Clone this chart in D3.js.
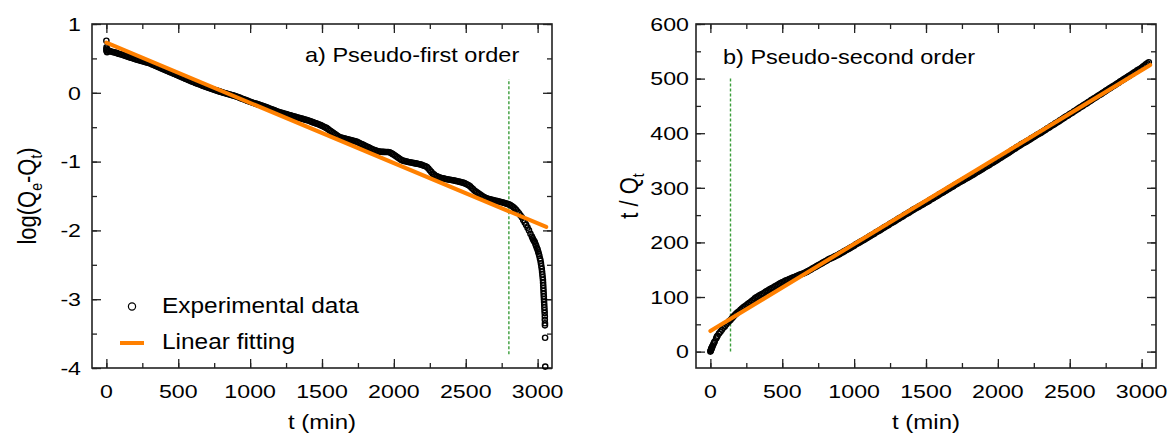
<!DOCTYPE html>
<html>
<head>
<meta charset="utf-8">
<script src="https://cdn.jsdelivr.net/npm/d3@7"></script>
<style>
  html, body { margin: 0; padding: 0; background: #fff; }
  svg { display: block; font-family: "Liberation Sans", Arial, sans-serif; }
</style>
</head>
<body>
<svg id="chart" width="1169" height="434"></svg>
<script>
// Sampling interval of the kinetic run (minutes between recorded points)
const SAMPLE_STEP = 10;

// a) log(Qe - Qt), one value every SAMPLE_STEP minutes from t = 0 to t = 2800
const logGap = [
  0.62,0.615,0.61,0.60,0.595,0.59,0.585,0.58,0.57,0.565,
  0.56,0.553,0.546,0.539,0.532,0.525,0.518,0.511,0.504,0.497,
  0.49,0.484,0.478,0.472,0.466,0.46,0.454,0.448,0.442,0.436,
  0.43,0.421,0.412,0.403,0.394,0.385,0.376,0.367,0.358,0.349,
  0.34,0.331,0.322,0.313,0.304,0.295,0.286,0.277,0.268,0.259,
  0.25,0.241,0.232,0.223,0.214,0.205,0.196,0.187,0.178,0.169,
  0.16,0.152,0.144,0.136,0.128,0.12,0.112,0.104,0.096,0.088,
  0.08,0.073,0.066,0.059,0.052,0.045,0.038,0.031,0.024,0.017,
  0.01,0.004,-0.002,-0.008,-0.014,-0.02,-0.026,-0.032,-0.038,-0.044,
  -0.05,-0.058,-0.066,-0.074,-0.082,-0.09,-0.098,-0.106,-0.114,-0.122,
  -0.13,-0.137,-0.144,-0.151,-0.158,-0.165,-0.172,-0.179,-0.186,-0.193,
  -0.2,-0.208,-0.216,-0.224,-0.232,-0.24,-0.248,-0.256,-0.264,-0.272,
  -0.28,-0.286,-0.292,-0.298,-0.304,-0.31,-0.316,-0.322,-0.328,-0.334,
  -0.34,-0.346,-0.352,-0.358,-0.364,-0.37,-0.376,-0.382,-0.388,-0.394,
  -0.4,-0.408,-0.415,-0.423,-0.43,-0.438,-0.445,-0.453,-0.46,-0.47,
  -0.48,-0.49,-0.5,-0.51,-0.525,-0.54,-0.555,-0.57,-0.585,-0.6,
  -0.615,-0.63,-0.643,-0.65,-0.655,-0.66,-0.666,-0.672,-0.677,-0.683,
  -0.688,-0.694,-0.699,-0.705,-0.71,-0.72,-0.73,-0.74,-0.75,-0.76,
  -0.77,-0.78,-0.79,-0.8,-0.81,-0.82,-0.828,-0.836,-0.843,-0.85,
  -0.855,-0.857,-0.858,-0.859,-0.86,-0.86,-0.861,-0.865,-0.875,-0.888,
  -0.9,-0.915,-0.93,-0.945,-0.96,-0.973,-0.985,-0.99,-0.995,-1.0,
  -1.005,-1.01,-1.014,-1.018,-1.022,-1.026,-1.03,-1.034,-1.038,-1.044,
  -1.052,-1.06,-1.068,-1.08,-1.1,-1.125,-1.15,-1.175,-1.19,-1.205,
  -1.215,-1.225,-1.232,-1.238,-1.243,-1.248,-1.252,-1.256,-1.26,-1.264,
  -1.268,-1.272,-1.276,-1.28,-1.285,-1.29,-1.295,-1.3,-1.306,-1.313,
  -1.322,-1.332,-1.343,-1.36,-1.38,-1.4,-1.42,-1.435,-1.45,-1.465,
  -1.48,-1.495,-1.508,-1.52,-1.53,-1.537,-1.543,-1.549,-1.555,-1.56,
  -1.565,-1.57,-1.575,-1.58,-1.585,-1.59,-1.596,-1.602,-1.608,-1.615,
  -1.622
];
// first readings right after the start
const startMin = [0, 1, 2, 3, 5];
const startLog = [0.757, 0.66, 0.64, 0.60, 0.59];
// near equilibrium the gap collapses quickly: denser readings
const tailMin = [2810,2820,2830,2840,2850,2860,2870,2880,2890,2900,2910,2920,2930,2940,2950,2960,2965,2970,2975,2980,2985,2990,2995,3000,3004,3008,3012,3016,3020,3023,3026,3029,3031,3033,3035,3037,3038,3039,3040,3041,3042,3043,3044,3045,3046,3047,3048,3049,3050,3050,3051,3051,3052,3053];
const tailLog = [-1.63,-1.645,-1.66,-1.68,-1.70,-1.725,-1.75,-1.78,-1.81,-1.85,-1.885,-1.92,-1.96,-2.0,-2.05,-2.09,-2.115,-2.135,-2.155,-2.17,-2.2,-2.225,-2.255,-2.28,-2.31,-2.34,-2.37,-2.41,-2.44,-2.48,-2.52,-2.56,-2.6,-2.64,-2.68,-2.72,-2.76,-2.8,-2.84,-2.88,-2.92,-2.96,-3.0,-3.04,-3.08,-3.12,-3.16,-3.2,-3.25,-3.3,-3.35,-3.38,-3.56,-3.98];

// b) t / Qt, one value every SAMPLE_STEP minutes from t = 0 to t = 3050
const ratio = [
  0,7,13,18.5,24,29,33,36.5,40,43.5,
  46,49.5,53,55.5,58,61,64,67,69.5,72,
  74,76.5,79,81,83,85,87,89,91,93,
  95,97.5,99.5,101,102.5,104,105.5,107,109,110.5,
  112,113.5,115,116.5,118,119.5,121,122.5,124,125.5,
  127,128,129.5,130.5,131.5,133,134,135,136,137,
  138.5,139.5,140.5,141.5,142.5,143.5,145,146,147.5,149,
  150.5,152,153.5,155,156.5,158,159.5,161,162.5,164,
  165.5,167,168.5,170,171,172.5,173.5,175,176,177.5,
  179,180.5,182,183.5,185,186.5,188,189.5,191,192.5,
  194,196,197.5,199,200.5,202,203.5,205,206.5,208,
  210,211.5,213,214.5,216,218,219.5,221,222.5,224,
  226,227.5,229,230.5,232,234,235.5,237,238.5,240,
  242,243.5,245,246.5,248,250,251.5,253,254.5,256,
  258,259.5,261,262.5,264,265.5,267,268.5,270,271.5,
  273,274.5,276,278,279.5,281,282.5,284,285.5,287.5,
  289,290.5,292,293.5,295,297,298.5,300,301.5,303,
  305,306.5,308,309.5,311,312.5,314,315.5,317,318.5,
  320,321.5,323,324.5,326,328,329.5,331,332.5,334,
  336,337.5,339,340.5,342,344,345.5,347,348.5,350,
  352,353.5,355,357,358.5,360,362,363.5,365,367,
  369,370.5,372,374,375.5,377,379,380.5,382,383.5,
  385,386.5,388,390,391.5,393,395,396.5,398,399.5,
  401,402.5,404.5,406,408,409.5,411,413,414.5,416,
  418,419.5,421,423,424.5,426.5,428,430,431.5,433,
  435,436.5,438,440,441.5,443.5,445,447,448.5,450,
  452,453.5,455,457,458.5,460.5,462,464,465.5,467,
  469,470.5,472,474,475.5,477.5,479,481,482.5,484,
  486,487.5,489,491,492.5,494.5,496,498,499.5,501,
  503,504.5,506,508,509.5,511.5,513,515,516.5,518,
  520,522,524,526,528,530
];
// extra readings in the first minutes, where t/Qt rises steeply
const earlyMin = [2, 4, 6, 8, 12, 15, 25, 45];
const earlyRatio = [1.5, 3, 4.5, 5.8, 8.5, 10, 16, 27];

// linear fits (end points of each fitted line)
const fitMin = [0, 3060];
const fitLog = [0.73, -1.95];
const fitRatio = [37.7, 525];

// markers of the fitting range
const cutA = { t: 2800, from: -3.8, to: 0.2 };
const cutB = { t: 140, from: 0, to: 500 };

// axis ticks
const timeTicks = [0, 500, 1000, 1500, 2000, 2500, 3000];
const logTicks = [-4, -3, -2, -1, 0, 1];
const ratioTicks = [0, 100, 200, 300, 400, 500, 600];

const ORANGE = "#ff8000";
const GREEN = "#3a9e3a";
const FRAME = "#222";

const svg = d3.select("#chart");

// text drawn with a horizontal stretch
function stretchedText(g, x, y, anchor, size, sx, rotate) {
  return g.append("text")
    .attr("text-anchor", anchor)
    .attr("font-size", size)
    .attr("fill", "#000")
    .attr("transform", `translate(${x},${y}) scale(${sx},1)` + (rotate ? ` rotate(${rotate})` : ""));
}

function panel(opts) {
  const { left, top, width, height, xDomain, yDomain, yTicks, yMinor } = opts;
  const g = svg.append("g");
  const x = d3.scaleLinear().domain(xDomain).range([left, left + width]);
  const y = d3.scaleLinear().domain(yDomain).range([top + height, top]);

  const xMinor = d3.range(0, 3001, 250);
  const yMin = d3.range(yTicks[0], yDomain[1] + 1e-9, yMinor);

  const axes = [
    { ax: d3.axisBottom(x), tr: `translate(0,${top + height})`, vals: [timeTicks, xMinor] },
    { ax: d3.axisTop(x), tr: `translate(0,${top})`, vals: [timeTicks, xMinor] },
    { ax: d3.axisLeft(y), tr: `translate(${left},0)`, vals: [yTicks, yMin] },
    { ax: d3.axisRight(y), tr: `translate(${left + width},0)`, vals: [yTicks, yMin] }
  ];
  axes.forEach(a => {
    // minor ticks, pointing inward
    g.append("g").attr("transform", a.tr)
      .call(a.ax.tickValues(a.vals[1]).tickSize(-5).tickSizeOuter(0).tickFormat(""))
      .call(s => s.select(".domain").remove())
      .call(s => s.selectAll("line").attr("stroke", FRAME).attr("stroke-width", 1.3));
    // major ticks, pointing inward
    g.append("g").attr("transform", a.tr)
      .call(a.ax.tickValues(a.vals[0]).tickSize(-9).tickSizeOuter(0).tickFormat(""))
      .call(s => s.select(".domain").remove())
      .call(s => s.selectAll("line").attr("stroke", FRAME).attr("stroke-width", 1.3));
  });

  g.append("rect")
    .attr("x", left).attr("y", top).attr("width", width).attr("height", height)
    .attr("fill", "none").attr("stroke", FRAME).attr("stroke-width", 1.6);

  // tick labels
  timeTicks.forEach(v => {
    stretchedText(g, x(v), top + height + 30, "middle", 19, 1.22).text(v);
  });
  yTicks.forEach(v => {
    stretchedText(g, left - opts.labelGap, y(v) + 6.8, "end", 19, 1.22).text(opts.fmt(v));
  });

  return { g, x, y };
}

function scatter(P, pts) {
  P.g.append("g").selectAll("circle").data(pts).join("circle")
    .attr("cx", d => P.x(d[0])).attr("cy", d => P.y(d[1])).attr("r", 2.6)
    .attr("fill", "none").attr("stroke", "#000").attr("stroke-width", 1.4);
}

function fitLine(P, ys) {
  P.g.append("path")
    .datum(fitMin.map((t, i) => [t, ys[i]]))
    .attr("d", d3.line().x(d => P.x(d[0])).y(d => P.y(d[1])))
    .attr("stroke", ORANGE).attr("stroke-width", 4).attr("stroke-linecap", "round").attr("fill", "none");
}

function cutLine(P, c) {
  P.g.append("line")
    .attr("x1", P.x(c.t)).attr("x2", P.x(c.t))
    .attr("y1", P.y(c.from)).attr("y2", P.y(c.to))
    .attr("stroke", GREEN).attr("stroke-width", 1.4).attr("stroke-dasharray", "3,2");
}

// ---------- a) pseudo-first order ----------
const A = panel({
  left: 92, top: 24, width: 460, height: 344,
  xDomain: [-100, 3100], yDomain: [-4, 1],
  yTicks: logTicks, yMinor: 0.5, labelGap: 11,
  fmt: v => (v < 0 ? "-" + Math.abs(v) : String(v))
});

cutLine(A, cutA);
scatter(A, logGap.map((v, i) => [i * SAMPLE_STEP, v])
  .concat(startMin.map((t, i) => [t, startLog[i]]))
  .concat(tailMin.map((t, i) => [t, tailLog[i]])));
fitLine(A, fitLog);

stretchedText(A.g, 305, 62, "start", 21, 1.12).text("a) Pseudo-first order");

// legend
A.g.append("circle").attr("cx", 132).attr("cy", 306.5).attr("r", 3.6)
  .attr("fill", "none").attr("stroke", "#000").attr("stroke-width", 1.2);
stretchedText(A.g, 162, 313, "start", 22, 1.11).text("Experimental data");
A.g.append("line").attr("x1", 120).attr("x2", 144).attr("y1", 343).attr("y2", 343)
  .attr("stroke", ORANGE).attr("stroke-width", 4);
stretchedText(A.g, 162, 349, "start", 22, 1.11).text("Linear fitting");

// axis titles
stretchedText(A.g, 322, 429, "middle", 20, 1.2).text("t (min)");
const ylA = stretchedText(A.g, 36, 196, "middle", 22, 1.2, -90);
ylA.append("tspan").text("log(Q");
ylA.append("tspan").attr("font-size", 14).attr("dy", 5).text("e");
ylA.append("tspan").attr("dy", -5).text("-Q");
ylA.append("tspan").attr("font-size", 14).attr("dy", 5).text("t");
ylA.append("tspan").attr("dy", -5).text(")");

// ---------- b) pseudo-second order ----------
const B = panel({
  left: 696, top: 24, width: 460, height: 344,
  xDomain: [-100, 3100], yDomain: [-30, 600],
  yTicks: ratioTicks, yMinor: 50, labelGap: 7,
  fmt: v => String(v)
});

cutLine(B, cutB);
scatter(B, ratio.map((v, i) => [i * SAMPLE_STEP, v])
  .concat(earlyMin.map((t, i) => [t, earlyRatio[i]])));
fitLine(B, fitRatio);

stretchedText(B.g, 723, 64, "start", 21, 1.12).text("b) Pseudo-second order");

stretchedText(B.g, 926, 429, "middle", 20, 1.2).text("t (min)");
const ylB = stretchedText(B.g, 638, 196, "middle", 22, 1.2, -90);
ylB.append("tspan").text("t / Q");
ylB.append("tspan").attr("font-size", 14).attr("dy", 5).text("t");
</script>
</body>
</html>
